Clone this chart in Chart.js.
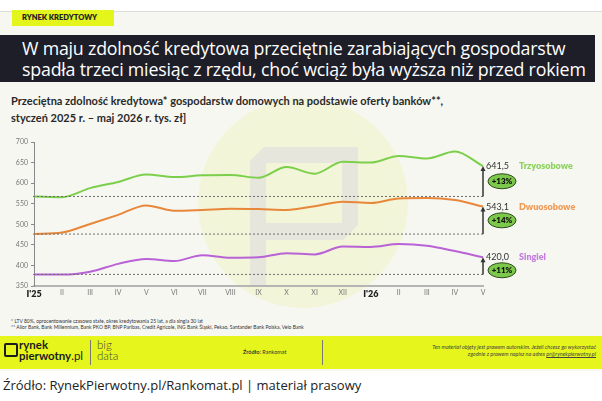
<!DOCTYPE html>
<html><head><meta charset="utf-8">
<script src="https://cdn.jsdelivr.net/npm/chart.js@4.4.1/dist/chart.umd.min.js"></script>
<style>
html,body{margin:0;padding:0;background:#fff;}
body{width:602px;height:401px;position:relative;overflow:hidden;font-family:"Open Sans",sans-serif;}
.abs{position:absolute;}
#bg{left:0;top:11px;width:602px;height:359px;background:#f7f7f2;border-top:1px solid #dcdcd8;}
#circle{left:198px;top:98px;width:210px;height:210px;border-radius:50%;background:radial-gradient(circle,#f2f5d6 0%,#f3f5da 88%,#f5f6e6 100%);}
#logo{left:248px;top:145px;}
#tag{left:12px;top:10px;width:102px;height:16px;background:#e4f51c;font:800 7.5px "Lato",sans-serif;color:#222;line-height:16px;text-indent:10px;}
#title{left:0;top:35px;width:595px;height:47px;background:#1e1e28;color:#fff;font:500 17.8px "Open Sans",sans-serif;line-height:21px;padding-top:3px;padding-left:22px;box-sizing:border-box;letter-spacing:-0.2px;white-space:nowrap;}
#sub{left:11px;top:92px;font:700 11px "Lato",sans-serif;color:#2a2a2a;line-height:17px;white-space:nowrap;}
#foot{left:11px;top:319px;font:400 5px "Lato",sans-serif;color:#333;line-height:5.5px;}
#band{left:0;top:336px;width:602px;height:33px;background:#e6f61c;}
#sq{left:4px;top:343px;width:10px;height:10px;border:2px solid #1c1c1c;border-radius:2px;}
#rp{left:19px;top:339px;font:700 11.5px "Lato",sans-serif;color:#1c1c1c;line-height:11px;}
#sep1{left:90px;top:340px;width:1px;height:25px;background:#777;}
#bd{left:97px;top:339px;font:300 11.5px "Lato",sans-serif;color:#444;line-height:11px;}
#zr{left:243px;top:349px;font:400 5.5px "Lato",sans-serif;color:#333;}
#sep2{left:322px;top:340px;width:1px;height:25px;background:#777;}
#cr{right:6px;top:344px;font:italic 400 5.5px "Lato",sans-serif;color:#444;text-align:right;line-height:7px;}
#src{left:3px;top:376px;font:400 13px "Open Sans",sans-serif;color:#222;}
#c{position:absolute;left:0;top:0;}
</style></head>
<body>
<div class="abs" id="bg"></div>
<div class="abs" id="circle"></div>
<svg class="abs" id="logo" width="115" height="145" viewBox="0 0 115 145">
  <path d="M16 2 L110 2 L110 80 L95 95 L18 95 L18 140 L2 140 L2 16 Z M18 18 L18 78 L94 78 L94 18 Z" fill="#e6e6dc" fill-rule="evenodd"/>
</svg>
<div class="abs" id="tag">RYNEK KREDYTOWY</div>
<div class="abs" id="title">W maju zdolność kredytowa przeciętnie zarabiających gospodarstw<br>spadła trzeci miesiąc z rzędu, choć wciąż była wyższa niż przed rokiem</div>
<div class="abs" id="sub">Przeciętna zdolność kredytowa* gospodarstw domowych na podstawie oferty banków**,<br>styczeń 2025 r. – maj 2026 r. tys. zł]</div>
<div class="abs" id="foot">* LTV 80%, oprocentowanie czasowo stałe, okres kredytowania 25 lat, a dla singla 30 lat<br>** Alior Bank, Bank Millennium, Bank PKO BP, BNP Paribas, Credit Agricole, ING Bank Śląski, Pekao, Santander Bank Polska, Velo Bank</div>
<div class="abs" id="band"></div>
<div class="abs" id="sq"></div>
<div class="abs" id="rp">rynek<br>pierwotny<span style="font-weight:400">.pl</span></div>
<div class="abs" id="sep1"></div>
<div class="abs" id="bd">big<br>data</div>
<div class="abs" id="zr"><b>Źródło:</b> Rankomat</div>
<div class="abs" id="sep2"></div>
<div class="abs" id="cr">Ten materiał objęty jest prawem autorskim. Jeżeli chcesz go wykorzystać<br>zgodnie z prawem napisz na adres <u>pr@rynekpierwotny.pl</u></div>
<div class="abs" id="src">Źródło: RynekPierwotny.pl/Rankomat.pl | materiał prasowy</div>
<canvas id="c" width="602" height="401"></canvas>
<script>
const categories = ["I'25","II","III","IV","V","VI","VII","VIII","IX","X","XI","XII","I'26","II","III","IV","V"];
const trzyosobowe = [567.7,566,588,603,621,615,619,620,613,639,623,652,650,666,660,677,641.5];
const dwuosobowe = [476.4,480,501,523,546,533,535,538,537,535,544,555,552,563,564,559,543.1];
const singiel = [378.4,378,385,404,416,411,425,419,420,430,427,446,445,452,448,435,420.0];
const seriesNames = ["Trzyosobowe","Dwuosobowe","Singiel"];
const changeLabels = ["+13%","+14%","+11%"];
const lineColors = ["#7ccf4b","#e8863a","#b862d6"];
const nameColors = ["#8ed25f","#f09a55","#c47ee0"];
const yTicks = {min:350,max:700,step:50};

const annot = {
  id:'annot',
  afterDatasetsDraw(chart){
    const ctx = chart.ctx, xs = chart.scales.x, ys = chart.scales.y;
    chart.data.datasets.forEach((ds,i)=>{
      const d = ds.data, n = d.length-1;
      const x0 = xs.getPixelForValue(0), x1 = xs.getPixelForValue(n);
      const yb = ys.getPixelForValue(d[0]), ye = ys.getPixelForValue(d[n]);
      ctx.save();
      ctx.strokeStyle = '#6f6f6f'; ctx.lineWidth = 1; ctx.setLineDash([2,2]);
      ctx.beginPath(); ctx.moveTo(x0-1,yb); ctx.lineTo(x1,yb); ctx.stroke();
      ctx.setLineDash([]);
      ctx.strokeStyle = '#333'; ctx.lineWidth = 1.5;
      ctx.beginPath(); ctx.moveTo(x1,yb); ctx.lineTo(x1,ye+3); ctx.stroke();
      ctx.fillStyle = '#333';
      ctx.beginPath(); ctx.moveTo(x1,ye); ctx.lineTo(x1-2.5,ye+5); ctx.lineTo(x1+2.5,ye+5); ctx.closePath(); ctx.fill();
      ctx.fillStyle = '#333'; ctx.font = '400 9px "Lato", sans-serif';
      ctx.textAlign = 'left'; ctx.textBaseline = 'middle';
      ctx.fillText(d[n].toFixed(1).replace('.',','), x1+3, ye);
      ctx.fillStyle = nameColors[i]; ctx.font = '800 9px "Lato", sans-serif';
      ctx.fillText(seriesNames[i], x1+36, ye);
      let by = (yb+ye)/2; if (yb-ye < 24) by = ye + 13;
      const bx = x1+19;
      ctx.fillStyle = '#7cc84a'; ctx.strokeStyle = '#2f4a1e'; ctx.lineWidth = 1;
      ctx.beginPath(); ctx.ellipse(bx, by, 14, 7.5, 0, 0, Math.PI*2); ctx.fill(); ctx.stroke();
      ctx.fillStyle = '#111'; ctx.font = '800 8px "Lato", sans-serif'; ctx.textAlign='center';
      ctx.fillText(changeLabels[i], bx, by+0.5);
      ctx.restore();
    });
  }
};

new Chart(document.getElementById('c'),{
  type:'line',
  data:{labels:categories,datasets:[
    {label:seriesNames[0],data:trzyosobowe,borderColor:lineColors[0]},
    {label:seriesNames[1],data:dwuosobowe,borderColor:lineColors[1]},
    {label:seriesNames[2],data:singiel,borderColor:lineColors[2]}
  ].map(d=>Object.assign(d,{borderWidth:2,pointRadius:0,tension:0.4,cubicInterpolationMode:'monotone',fill:false}))},
  options:{
    responsive:false,animation:false,
    layout:{padding:{left:0,right:119,top:142,bottom:99}},
    plugins:{legend:{display:false},tooltip:{enabled:false}},
    scales:{
      x:{offset:false,
        grid:{display:false,drawTicks:false,tickLength:0},
        border:{display:true,color:'#b5b5b5',width:2},
        ticks:{autoSkip:false,maxRotation:0,padding:3,
          color:(c)=>(c.index===0||c.index===12)?'#222':'#777',
          font:(c)=>(c.index===0||c.index===12)?{family:'Lato',size:9,weight:'800',lineHeight:1.1}:{family:'Lato',size:7,lineHeight:1.1}}
      },
      y:{min:yTicks.min,max:yTicks.max,
        afterFit(s){s.width=34;},
        grid:{display:true,drawOnChartArea:false,drawTicks:true,tickLength:3,color:'#888'},
        border:{display:true,color:'#888',width:1},
        ticks:{stepSize:yTicks.step,padding:3,color:'#777',font:{family:'Lato',size:7}}
      }
    }
  },
  plugins:[annot]
});
</script>
</body></html>
